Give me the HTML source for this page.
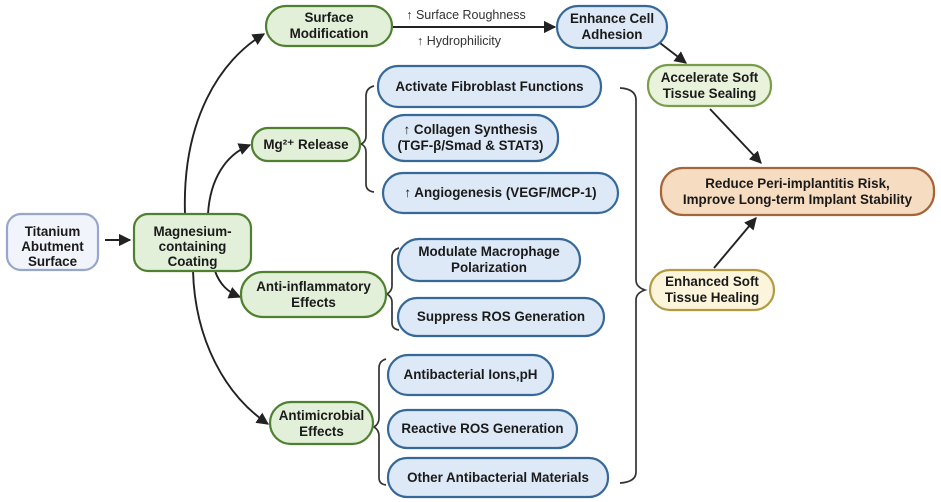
<!DOCTYPE html>
<html><head><meta charset="utf-8"><style>
html,body{margin:0;padding:0;background:#fff;}
svg{display:block;}
text{font-family:"Liberation Sans",sans-serif;font-weight:bold;font-size:13.4px;fill:#1a1a1a;text-anchor:middle;}
.n{font-weight:normal;fill:#333;font-size:12.5px;}
.g{fill:#e2efd9;stroke:#4f8030;stroke-width:2.2;}
.b{fill:#dde9f6;stroke:#36689a;stroke-width:2.2;}
.l{fill:none;stroke:#222;stroke-width:1.9;}
.br{fill:none;stroke:#333;stroke-width:1.7;}
</style></head><body>
<svg width="941" height="502" viewBox="0 0 941 502">
<defs><marker id="a" viewBox="0 0 10 10" refX="9" refY="5" markerWidth="6.5" markerHeight="6.5" orient="auto"><path d="M0,0 L10,5 L0,10 z" fill="#222"/></marker></defs>

<line class="l" x1="105" y1="240" x2="130" y2="240" marker-end="url(#a)"/>
<path class="l" d="M185,214 C182,120 220,60 264,34" marker-end="url(#a)"/>
<path class="l" d="M208,214 C210,180 225,155 250,145" marker-end="url(#a)"/>
<path class="l" d="M215,271 C220,285 228,292 240,297" marker-end="url(#a)"/>
<path class="l" d="M193,271 C195,340 225,395 268,424" marker-end="url(#a)"/>
<line class="l" x1="393" y1="27" x2="555" y2="27" marker-end="url(#a)"/>
<line class="l" x1="660" y1="43" x2="686" y2="63" marker-end="url(#a)"/>
<line class="l" x1="710" y1="109" x2="761" y2="163" marker-end="url(#a)"/>
<line class="l" x1="714" y1="268" x2="756" y2="218" marker-end="url(#a)"/>

<path class="br" d="M374,86 Q366,88 366,96 L366,136 Q366,142 361,144 Q366,146 366,152 L366,184 Q366,191 374,192"/>
<path class="br" d="M399,248 Q392,250 392,257 L392,286 Q392,291 387,294 Q392,297 392,302 L392,323 Q392,329 399,330"/>
<path class="br" d="M386,359 Q379,361 379,368 L379,418 Q379,424 374,427 Q379,430 379,436 L379,478 Q379,484 386,485"/>
<path class="br" d="M620,88 Q636,89 636,100 L636,280 Q636,287 645,290 Q636,293 636,300 L636,472 Q636,482 620,483"/>

<rect x="7" y="214" width="91" height="56" rx="14" fill="#f1f4fb" stroke="#98a6cc" stroke-width="2.2"/>
<text x="52.5" y="236">Titanium</text><text x="52.5" y="251">Abutment</text><text x="52.5" y="266">Surface</text>

<rect class="g" x="134" y="214" width="117" height="57" rx="14"/>
<text x="192.5" y="236">Magnesium-</text><text x="192.5" y="251">containing</text><text x="192.5" y="266">Coating</text>

<rect class="g" x="266" y="6" width="126" height="40" rx="20"/>
<text x="329" y="22">Surface</text><text x="329" y="38">Modification</text>
<text class="n" x="466" y="19">↑ Surface Roughness</text>
<text class="n" x="459" y="45">↑ Hydrophilicity</text>

<rect class="b" x="557" y="6" width="110" height="42" rx="21"/>
<text x="612" y="23">Enhance Cell</text><text x="612" y="39">Adhesion</text>

<rect x="648" y="65" width="123" height="41" rx="20" fill="#e9f3dc" stroke="#789c48" stroke-width="2.2"/>
<text x="709.5" y="82">Accelerate Soft</text><text x="709.5" y="98">Tissue Sealing</text>

<rect x="661" y="168" width="273" height="47" rx="22" fill="#f6dcc0" stroke="#a5653a" stroke-width="2.2"/>
<text x="797.5" y="188">Reduce Peri-implantitis Risk,</text><text x="797.5" y="204">Improve Long-term Implant Stability</text>

<rect x="650" y="270" width="124" height="40" rx="20" fill="#fcf5dc" stroke="#b39a42" stroke-width="2.2"/>
<text x="712" y="286">Enhanced Soft</text><text x="712" y="302">Tissue Healing</text>

<rect class="g" x="252" y="128" width="108" height="33" rx="16"/>
<text x="306" y="149">Mg²⁺ Release</text>

<rect class="g" x="241" y="272" width="145" height="45" rx="22"/>
<text x="313.5" y="291">Anti-inflammatory</text><text x="313.5" y="307">Effects</text>

<rect class="g" x="270" y="402" width="103" height="42" rx="21"/>
<text x="321.5" y="420">Antimicrobial</text><text x="321.5" y="436">Effects</text>

<rect class="b" x="378" y="66" width="223" height="41" rx="20"/>
<text x="489.5" y="91">Activate Fibroblast Functions</text>
<rect class="b" x="383" y="115" width="175" height="46" rx="22"/>
<text x="470.5" y="134">↑ Collagen Synthesis</text><text x="470.5" y="150">(TGF-β/Smad &amp; STAT3)</text>
<rect class="b" x="383" y="173" width="235" height="40" rx="20"/>
<text x="500.5" y="197">↑ Angiogenesis (VEGF/MCP-1)</text>

<rect class="b" x="398" y="239" width="182" height="42" rx="21"/>
<text x="489" y="256">Modulate Macrophage</text><text x="489" y="272">Polarization</text>
<rect class="b" x="398" y="298" width="206" height="38" rx="19"/>
<text x="501" y="321">Suppress ROS Generation</text>

<rect class="b" x="388" y="355" width="165" height="40" rx="20"/>
<text x="470.5" y="379">Antibacterial Ions,pH</text>
<rect class="b" x="388" y="410" width="189" height="38" rx="19"/>
<text x="482.5" y="433">Reactive ROS Generation</text>
<rect class="b" x="388" y="458" width="220" height="39" rx="19"/>
<text x="498" y="482">Other Antibacterial Materials</text>
</svg>
</body></html>
